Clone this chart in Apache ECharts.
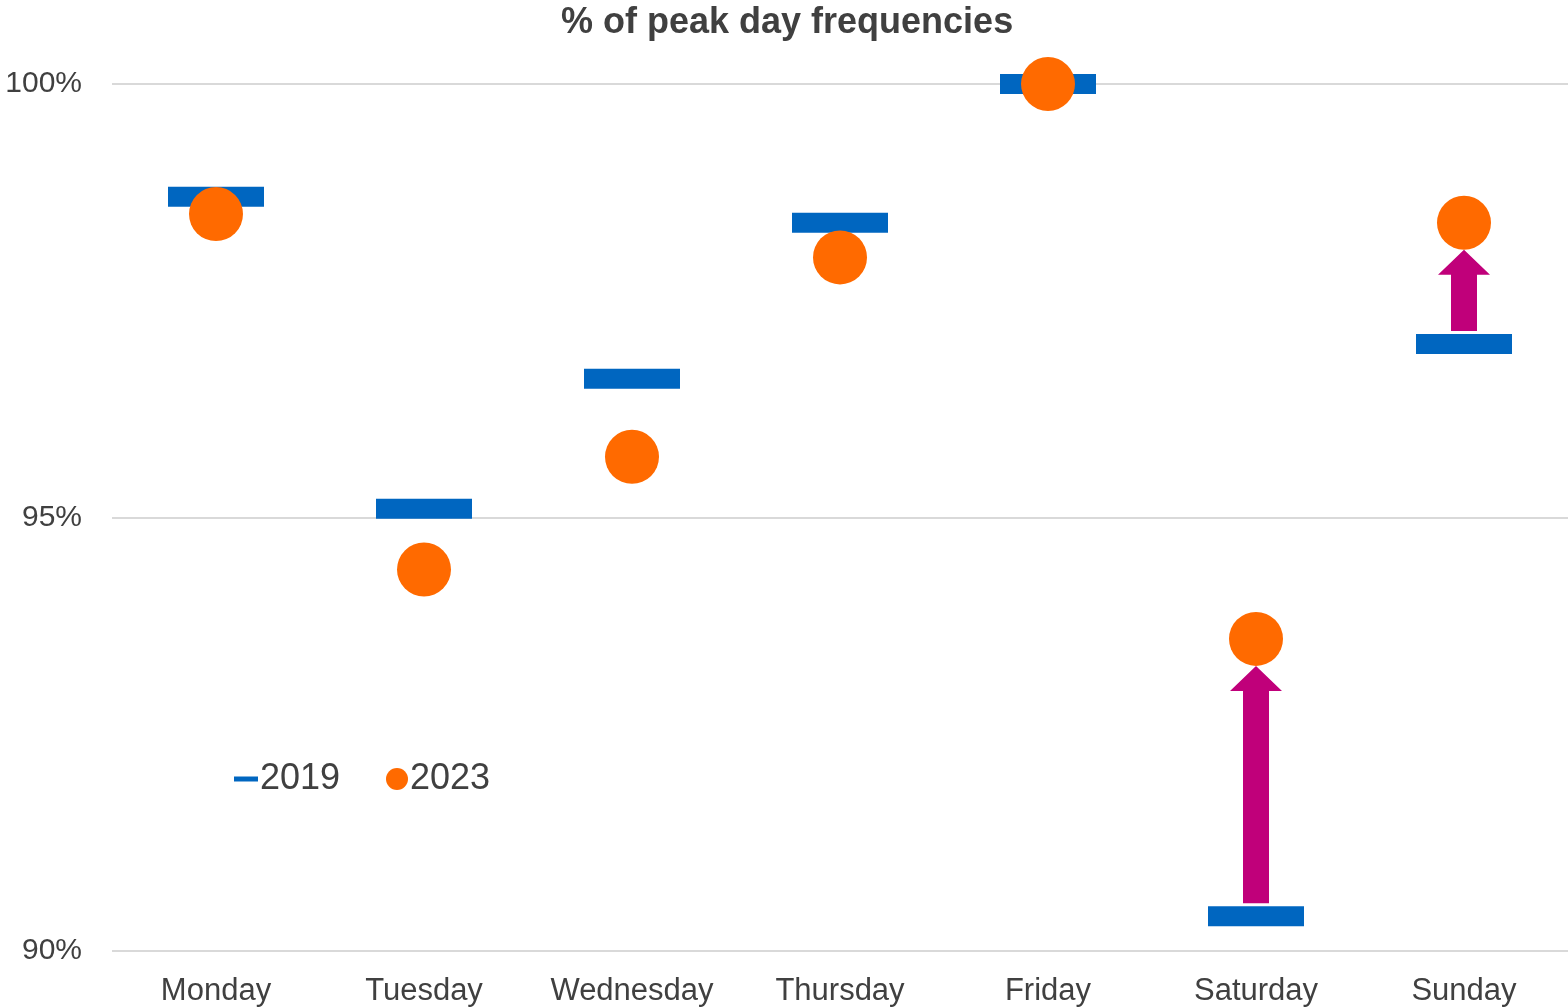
<!DOCTYPE html>
<html>
<head>
<meta charset="utf-8">
<script src="https://cdn.jsdelivr.net/npm/echarts@6/dist/echarts.min.js"></script>
<style>
  html, body { margin: 0; padding: 0; background: #fff; }
  #chart { width: 1568px; height: 1008px; }
</style>
</head>
<body>
<div id="chart"></div>
<script>
const days = ['Monday', 'Tuesday', 'Wednesday', 'Thursday', 'Friday', 'Saturday', 'Sunday']
const values2019 = [98.7, 95.1, 96.6, 98.4, 100, 90.4, 97.0]
const values2023 = [98.5, 94.4, 95.7, 98.0, 100, 93.6, 98.4]
// days that get an arrow from 2019 up to 2023
const arrowDays = ['Saturday', 'Sunday']

const textColor = '#404040'
const fontFamily = '"Liberation Sans", Arial, sans-serif'

const chart = echarts.init(document.getElementById('chart'))

const arrowData = arrowDays.map(function (d) {
  const i = days.indexOf(d)
  return [i, values2019[i], values2023[i]]
})

chart.setOption({
  animation: false,
  textStyle: { fontFamily: fontFamily },
  title: {
    text: '% of peak day frequencies',
    left: 556,
    top: 0,
    textStyle: { color: textColor, fontSize: 36, fontWeight: 'bold', fontFamily: fontFamily }
  },
  legend: [
    {
      data: [{ name: '2019', icon: 'rect' }],
      left: 229,
      top: 754,
      itemWidth: 24,
      itemHeight: 5,
      itemGap: 0,
      textStyle: { color: textColor, fontSize: 36, lineHeight: 40, fontFamily: fontFamily, padding: [0, 0, 0, -3] }
    },
    {
      data: [{ name: '2023', icon: 'circle' }],
      left: 381,
      top: 754,
      itemWidth: 22,
      itemHeight: 22,
      textStyle: { color: textColor, fontSize: 36, lineHeight: 40, fontFamily: fontFamily, padding: [0, 0, 0, -3] }
    }
  ],
  grid: { left: 112, right: 0, top: 84, bottom: 57 },
  xAxis: {
    type: 'category',
    data: days,
    boundaryGap: true,
    axisLine: { show: false },
    axisTick: { show: false },
    axisLabel: { color: textColor, fontSize: 31, margin: 25, interval: 0, fontFamily: fontFamily }
  },
  yAxis: {
    type: 'value',
    min: 90,
    max: 100,
    interval: 5,
    axisLine: { show: false },
    axisTick: { show: false },
    axisLabel: { color: textColor, fontSize: 30, margin: 30, formatter: '{value}%', fontFamily: fontFamily },
    splitLine: { lineStyle: { color: '#d9d9d9', width: 2 } }
  },
  series: [
    {
      name: '2019',
      type: 'scatter',
      data: values2019,
      symbol: 'rect',
      symbolSize: [96, 20],
      itemStyle: { color: '#0066c0', opacity: 1 },
      z: 2
    },
    {
      name: '2023',
      type: 'scatter',
      data: values2023,
      symbol: 'circle',
      symbolSize: 54,
      itemStyle: { color: '#ff6a00', opacity: 1 },
      z: 3
    },
    {
      name: 'arrows',
      type: 'custom',
      data: arrowData,
      z: 4,
      renderItem: function (params, api) {
        const from = api.coord([api.value(0), api.value(1)])
        const to = api.coord([api.value(0), api.value(2)])
        const x = from[0]
        const yBottom = from[1] - 13
        const yTip = to[1] + 27
        const shaft = 13
        const head = 26
        const headH = 25
        return {
          type: 'polygon',
          shape: {
            points: [
              [x - shaft, yBottom],
              [x - shaft, yTip + headH],
              [x - head, yTip + headH],
              [x, yTip],
              [x + head, yTip + headH],
              [x + shaft, yTip + headH],
              [x + shaft, yBottom]
            ]
          },
          style: { fill: '#c0007a' }
        }
      }
    }
  ]
})
</script>
</body>
</html>
